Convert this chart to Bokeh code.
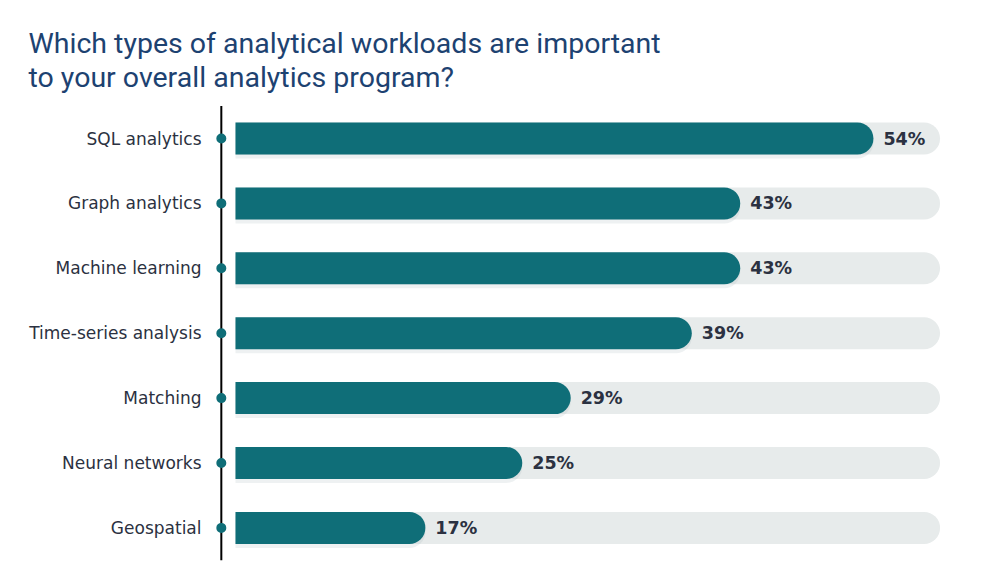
from bokeh.plotting import figure
from bokeh.models import Range1d, ColumnDataSource
from bokeh.core.properties import value
from bokeh.embed import file_html
from bokeh.resources import INLINE

title_lines = ["Which types of analytical workloads are important",
               "to your overall analytics program?"]
categories = ["SQL analytics", "Graph analytics", "Machine learning",
              "Time-series analysis", "Matching", "Neural networks", "Geospatial"]
values = [54, 43, 43, 39, 29, 25, 17]
track_end = 59.5

W, H = 974, 563
PX_PER_UNIT = 12.11
ZERO_PX = 219          # canvas px of value 0
ROW0_PX = 138          # canvas px of first row center
ROW_STEP = 64.9

x0 = -ZERO_PX / PX_PER_UNIT
x1 = (W - ZERO_PX) / PX_PER_UNIT
y_top = -ROW0_PX / ROW_STEP
y_bot = (H - ROW0_PX) / ROW_STEP

p = figure(width=W, height=H, output_backend="svg", toolbar_location=None,
           x_range=Range1d(x0, x1), y_range=Range1d(y_bot, y_top),
           min_border=0, min_border_left=0, min_border_right=0,
           min_border_top=0, min_border_bottom=0)
p.axis.visible = False
p.grid.visible = False
p.outline_line_color = None
p.background_fill_color = "white"
p.border_fill_color = "white"

TEAL = "#0f6e78"
TRACK = "#e7ebeb"
DARK = "#2b3141"
gap = 16 / PX_PER_UNIT
bar_h = 32 / ROW_STEP

ys = list(range(len(categories)))
src = ColumnDataSource(dict(
    y=ys, cat=categories, val=values,
    y_sh=[y + 4 / ROW_STEP for y in ys],
    lab=[f"{v}%" for v in values],
    left=[gap] * len(values),
    track=[track_end] * len(values),
    lab_x=[v + 10 / PX_PER_UNIT for v in values],
    cat_x=[-18 / PX_PER_UNIT] * len(values),
    dot_x=[0.15] * len(values),
))

# background tracks
p.hbar(y="y", left="left", right="track", height=bar_h, source=src,
       fill_color=TRACK, line_color=None, border_radius=(0, 16, 16, 0))
# faint shadow
p.hbar(y="y_sh", left="left", right="val", height=bar_h, source=src,
       fill_color="#9fb3b5", fill_alpha=0.18, line_color=None,
       border_radius=(0, 16, 16, 0))
# value bars
p.hbar(y="y", left="left", right="val", height=bar_h, source=src,
       fill_color=TEAL, line_color=None, border_radius=(0, 16, 16, 0))

# vertical axis line
p.segment(x0=[0.15], y0=[-0.5], x1=[0.15], y1=[6.5], line_color="black", line_width=2)
p.scatter(x="dot_x", y="y", source=src, size=10, fill_color=TEAL, line_color=None)

p.text(x="cat_x", y="y", text="cat", source=src, text_align="right",
       text_baseline="middle", text_font=value("DejaVu Sans"), text_font_size="17px",
       text_color=DARK)
p.text(x="lab_x", y="y", text="lab", source=src, text_align="left",
       text_baseline="middle", text_font=value("DejaVu Sans"), text_font_size="17.5px",
       text_font_style="bold", text_color=DARK)

tx = (28 - ZERO_PX) / PX_PER_UNIT
ty = [(43 - ROW0_PX) / ROW_STEP, (77 - ROW0_PX) / ROW_STEP]
p.text(x=[tx, tx], y=ty, text=title_lines, text_align="left",
       text_baseline="alphabetic", text_font=value("Roboto"),
       text_font_size="28.5px", text_color="#1d4271")

open("out.html", "w").write(file_html(p, INLINE))
